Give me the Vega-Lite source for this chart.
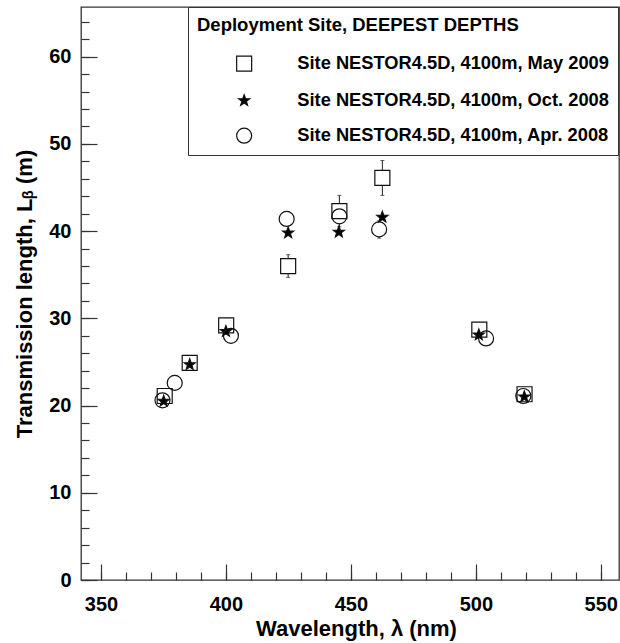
{
  "$schema": "https://vega.github.io/schema/vega-lite/v6.json",
  "width": 538,
  "height": 573,
  "autosize": {"type": "none"},
  "padding": {"left": 81, "top": 7, "right": 1, "bottom": 63},
  "background": "white",
  "config": {
    "view": {"stroke": "#333", "strokeWidth": 1.3},
    "font": "Liberation Sans"
  },
  "data": {
    "values": [
      {"series": "Site NESTOR4.5D, 4100m, May 2009", "wl": 375.5, "L": 21.1, "lo": 20.7, "hi": 21.5},
      {"series": "Site NESTOR4.5D, 4100m, May 2009", "wl": 385.5, "L": 24.9, "lo": 24.4, "hi": 25.4},
      {"series": "Site NESTOR4.5D, 4100m, May 2009", "wl": 400.1, "L": 29.2, "lo": 28.4, "hi": 30.0},
      {"series": "Site NESTOR4.5D, 4100m, May 2009", "wl": 424.9, "L": 36.0, "lo": 34.7, "hi": 37.3},
      {"series": "Site NESTOR4.5D, 4100m, May 2009", "wl": 445.4, "L": 42.3, "lo": 40.5, "hi": 44.1},
      {"series": "Site NESTOR4.5D, 4100m, May 2009", "wl": 462.6, "L": 46.1, "lo": 44.1, "hi": 48.1},
      {"series": "Site NESTOR4.5D, 4100m, May 2009", "wl": 501.4, "L": 28.7, "lo": 27.9, "hi": 29.5},
      {"series": "Site NESTOR4.5D, 4100m, May 2009", "wl": 519.5, "L": 21.3, "lo": 20.8, "hi": 21.8},
      {"series": "Site NESTOR4.5D, 4100m, Oct. 2008", "wl": 375.1, "L": 20.5, "lo": 20.5, "hi": 20.5},
      {"series": "Site NESTOR4.5D, 4100m, Oct. 2008", "wl": 385.5, "L": 24.7, "lo": 24.7, "hi": 24.7},
      {"series": "Site NESTOR4.5D, 4100m, Oct. 2008", "wl": 400.0, "L": 28.5, "lo": 28.5, "hi": 28.5},
      {"series": "Site NESTOR4.5D, 4100m, Oct. 2008", "wl": 424.9, "L": 39.8, "lo": 39.8, "hi": 39.8},
      {"series": "Site NESTOR4.5D, 4100m, Oct. 2008", "wl": 445.2, "L": 39.9, "lo": 39.9, "hi": 39.9},
      {"series": "Site NESTOR4.5D, 4100m, Oct. 2008", "wl": 462.6, "L": 41.6, "lo": 41.6, "hi": 41.6},
      {"series": "Site NESTOR4.5D, 4100m, Oct. 2008", "wl": 501.2, "L": 28.1, "lo": 28.1, "hi": 28.1},
      {"series": "Site NESTOR4.5D, 4100m, Oct. 2008", "wl": 519.4, "L": 21.0, "lo": 21.0, "hi": 21.0},
      {"series": "Site NESTOR4.5D, 4100m, Apr. 2008", "wl": 374.6, "L": 20.6, "lo": 20.2, "hi": 21.0},
      {"series": "Site NESTOR4.5D, 4100m, Apr. 2008", "wl": 379.5, "L": 22.6, "lo": 22.2, "hi": 23.0},
      {"series": "Site NESTOR4.5D, 4100m, Apr. 2008", "wl": 402.0, "L": 28.0, "lo": 27.6, "hi": 28.4},
      {"series": "Site NESTOR4.5D, 4100m, Apr. 2008", "wl": 424.3, "L": 41.4, "lo": 41.0, "hi": 41.8},
      {"series": "Site NESTOR4.5D, 4100m, Apr. 2008", "wl": 445.4, "L": 41.7, "lo": 41.2, "hi": 42.2},
      {"series": "Site NESTOR4.5D, 4100m, Apr. 2008", "wl": 461.3, "L": 40.2, "lo": 39.2, "hi": 41.2},
      {"series": "Site NESTOR4.5D, 4100m, Apr. 2008", "wl": 504.1, "L": 27.7, "lo": 27.3, "hi": 28.1},
      {"series": "Site NESTOR4.5D, 4100m, Apr. 2008", "wl": 519.0, "L": 21.1, "lo": 20.7, "hi": 21.5}
    ]
  },
  "layer": [
    {
      "mark": {"type": "rule", "color": "#222", "strokeWidth": 1},
      "encoding": {
        "x": {
          "field": "wl", "type": "quantitative",
          "scale": {"domain": [342, 557.3], "nice": false, "zero": false},
          "axis": {
            "orient": "bottom", "title": null, "labels": false, "domain": false, "grid": false,
            "values": [350, 360, 370, 380, 390, 400, 410, 420, 430, 440, 450, 460, 470, 480, 490, 500, 510, 520, 530, 540, 550],
            "tickSize": -8, "tickColor": "#333", "tickWidth": 1.2
          }
        },
        "y": {
          "field": "lo", "type": "quantitative",
          "scale": {"domain": [0, 65.7], "nice": false, "zero": false},
          "axis": {
            "orient": "left", "title": null, "labels": false, "domain": false, "grid": false,
            "values": [0, 2, 4, 6, 8, 10, 12, 14, 16, 18, 20, 22, 24, 26, 28, 30, 32, 34, 36, 38, 40, 42, 44, 46, 48, 50, 52, 54, 56, 58, 60, 62, 64],
            "tickSize": -8, "tickColor": "#333", "tickWidth": 1.2
          }
        },
        "y2": {"field": "hi"}
      }
    },
    {
      "mark": {"type": "tick", "orient": "horizontal", "color": "#222", "size": 4, "thickness": 1},
      "encoding": {
        "x": {"field": "wl", "type": "quantitative", "axis": null},
        "y": {"field": "hi", "type": "quantitative", "axis": null}
      }
    },
    {
      "mark": {"type": "tick", "orient": "horizontal", "color": "#222", "size": 4, "thickness": 1},
      "encoding": {
        "x": {"field": "wl", "type": "quantitative", "axis": null},
        "y": {"field": "lo", "type": "quantitative", "axis": null}
      }
    },
    {
      "transform": [{"filter": "datum.series === 'Site NESTOR4.5D, 4100m, May 2009'"}],
      "mark": {"type": "point", "shape": "square", "filled": true, "opacity": 1, "fill": "white", "strokeWidth": 0, "size": 225},
      "encoding": {
        "x": {"field": "wl", "type": "quantitative", "axis": null},
        "y": {"field": "L", "type": "quantitative", "axis": null}
      }
    },
    {
      "transform": [{"filter": "datum.series === 'Site NESTOR4.5D, 4100m, Apr. 2008'"}],
      "mark": {"type": "point", "shape": "circle", "filled": true, "opacity": 1, "fill": "white", "strokeWidth": 0, "size": 225},
      "encoding": {
        "x": {"field": "wl", "type": "quantitative", "axis": null},
        "y": {"field": "L", "type": "quantitative", "axis": null}
      }
    },
    {
      "mark": {"type": "point", "filled": true, "opacity": 1, "stroke": "#111", "strokeWidth": 1.2, "size": 225},
      "encoding": {
        "x": {
          "field": "wl", "type": "quantitative",
          "axis": {
            "orient": "bottom", "title": "Wavelength, λ (nm)", "domain": false, "grid": false,
            "values": [350, 400, 450, 500, 550],
            "tickSize": -16, "tickColor": "#333", "tickWidth": 1.2,
            "labelFont": "Liberation Sans", "labelFontSize": 20, "labelFontWeight": "bold", "labelColor": "black",
            "labelPadding": 30,
            "titleFont": "Liberation Sans", "titleFontSize": 22, "titleFontWeight": "bold", "titleColor": "black",
            "titlePadding": 4, "titleX": 275
          }
        },
        "y": {
          "field": "L", "type": "quantitative",
          "axis": {
            "orient": "left", "title": "Transmission length, Lᵦ (m)", "domain": false, "grid": false,
            "values": [0, 10, 20, 30, 40, 50, 60],
            "tickSize": -16, "tickColor": "#333", "tickWidth": 1.2,
            "labelFont": "Liberation Sans", "labelFontSize": 20, "labelFontWeight": "bold", "labelColor": "black",
            "labelPadding": 26,
            "titleFont": "Liberation Sans", "titleFontSize": 22, "titleFontWeight": "bold", "titleColor": "black",
            "titlePadding": 12
          }
        },
        "shape": {
          "field": "series", "type": "nominal",
          "scale": {
            "domain": ["Site NESTOR4.5D, 4100m, May 2009", "Site NESTOR4.5D, 4100m, Oct. 2008", "Site NESTOR4.5D, 4100m, Apr. 2008"],
            "range": ["square", "M0,-0.78 L0.188,-0.259 L0.742,-0.241 L0.304,0.099 L0.458,0.631 L0,0.32 L-0.458,0.631 L-0.304,0.099 L-0.742,-0.241 L-0.188,-0.259 Z", "circle"]
          },
          "legend": {
            "title": "Deployment Site, DEEPEST DEPTHS",
            "orient": "none", "legendX": 107, "legendY": 0,
            "padding": 9, "strokeColor": "#333", "fillColor": "white",
            "titleFont": "Liberation Sans", "titleFontSize": 18.5, "titleFontWeight": "bold", "titleColor": "black", "titlePadding": 20, "titleLimit": 600,
            "labelFont": "Liberation Sans", "labelFontSize": 18.3, "labelFontWeight": "bold", "labelColor": "black", "labelLimit": 500,
            "symbolOffset": 38, "labelOffset": 44, "rowPadding": 16, "symbolSize": 225, "symbolStrokeWidth": 1.2
          }
        },
        "fill": {
          "field": "series", "type": "nominal",
          "scale": {
            "domain": ["Site NESTOR4.5D, 4100m, May 2009", "Site NESTOR4.5D, 4100m, Oct. 2008", "Site NESTOR4.5D, 4100m, Apr. 2008"],
            "range": ["rgba(0,0,0,0)", "black", "rgba(0,0,0,0)"]
          },
          "legend": {
            "title": "Deployment Site, DEEPEST DEPTHS",
            "orient": "none", "legendX": 107, "legendY": 0,
            "padding": 9, "strokeColor": "#333", "fillColor": "white",
            "titleFont": "Liberation Sans", "titleFontSize": 18.5, "titleFontWeight": "bold", "titleColor": "black", "titlePadding": 20, "titleLimit": 600,
            "labelFont": "Liberation Sans", "labelFontSize": 18.3, "labelFontWeight": "bold", "labelColor": "black", "labelLimit": 500,
            "symbolOffset": 38, "labelOffset": 44, "rowPadding": 16, "symbolSize": 225, "symbolStrokeWidth": 1.2
          }
        }
      }
    }
  ],
  "resolve": {"axis": {"x": "independent", "y": "independent"}}
}
